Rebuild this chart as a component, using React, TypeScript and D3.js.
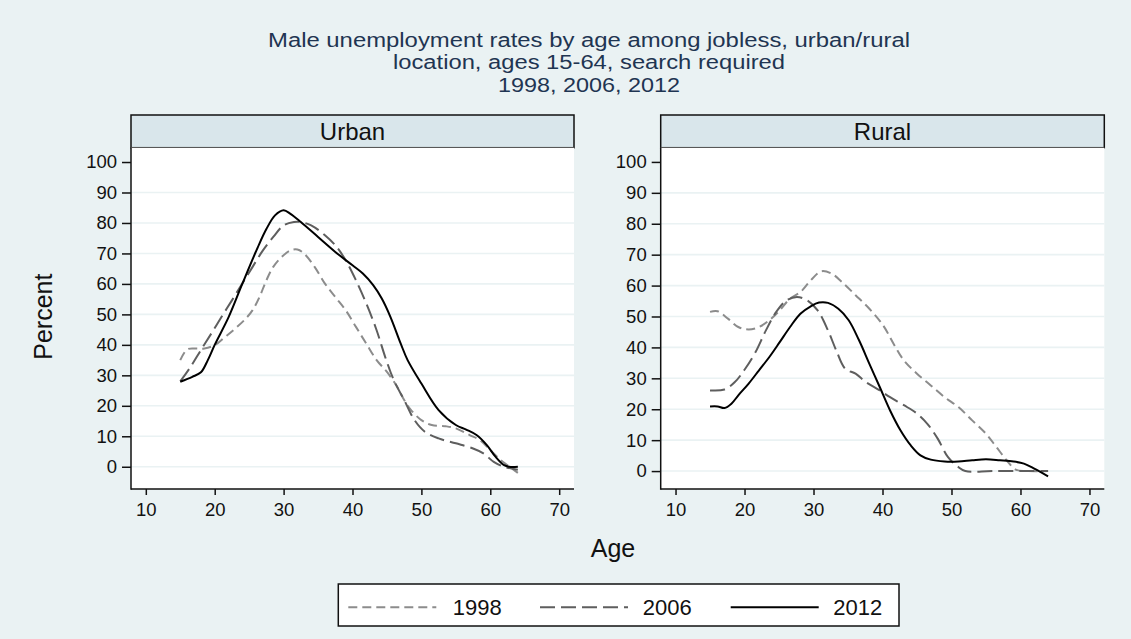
import React, { useEffect } from "react";
import * as d3 from "d3";

type Pt = [number, number];

const titleLines = [
  "Male unemployment rates by age among jobless, urban/rural",
  "location, ages 15-64, search required",
  "1998, 2006, 2012",
];
const years = ["1998", "2006", "2012"];
const xTicks = [10, 20, 30, 40, 50, 60, 70];
const yTicks = [0, 10, 20, 30, 40, 50, 60, 70, 80, 90, 100];

// Urban as [age, percent]
const urban1998: Pt[] = [
  [15, 35], [16, 38.5], [17.25, 38.8], [18.5, 38.8], [20, 39.9], [21.5, 42.6], [23, 45.4],
  [24.5, 48.6], [25.5, 51.4], [26.5, 55.7], [27.5, 61.2], [28.5, 65.6], [29.75, 68.9],
  [31, 71], [32, 71.3], [33, 69.9], [34.5, 65.6], [36, 60.1], [37.5, 55.7], [39, 51.4],
  [40.5, 45.9], [42, 40.4], [43.5, 35], [45, 31.1], [46.5, 26.2], [47.5, 21.9], [48.5, 18.6],
  [50, 15.3], [51.5, 13.7], [53.5, 13.3], [55, 12.6], [57, 10.4], [58.5, 8.7], [60, 5.5],
  [61.5, 2.2], [62.5, 0.5], [64, -2],
];
const urban2006: Pt[] = [
  [15, 28], [16.5, 32.8], [18, 38.3], [19.5, 43.7], [21, 49.2], [22.5, 54.6], [24, 60.1],
  [25.5, 65.6], [27, 71], [28.5, 75.4], [30, 79.2], [31.5, 80.3], [32.5, 80.3], [34, 79.2],
  [36, 76], [37.5, 72.7], [39, 67.8], [40.5, 61.2], [42, 53.6], [43.5, 44.8], [44.75, 36],
  [46, 28.4], [47.5, 21.9], [49, 15.3], [50.5, 11.5], [52.5, 9.3], [55, 7.7], [57.5, 6],
  [59, 4.4], [60.5, 1.6], [62, 0], [64, -1],
];
const urban2012: Pt[] = [
  [15, 27.9], [16.75, 29.5], [18, 31], [19, 35], [20, 40], [22, 49], [24, 60], [26.25, 72],
  [27.5, 78], [28.75, 82.5], [30, 84.2], [31, 83], [32.5, 80.3], [35, 75.4], [37.5, 70.5],
  [40, 66.1], [41.5, 63.4], [43, 59.6], [44.25, 55.2], [45.5, 49.2], [47, 40.4], [48, 35],
  [50, 27.3], [52.5, 18.6], [55, 13.7], [56.5, 12.2], [58, 10.4], [59.5, 7.1], [60.75, 3.3],
  [62, 0.5], [62.75, 0], [64, 0],
];

// Rural
const rural1998: Pt[] = [
  [15, 51.5], [16.1, 51.7], [17.6, 49.3], [19.1, 46.6], [20.6, 45.8], [22.1, 46.6],
  [23.6, 48.8], [25.1, 52], [26.6, 55.8], [28.1, 57.9], [29.6, 61.7], [31.1, 64.6],
  [32.6, 63.9], [34.1, 61.2], [36.1, 56.9], [38.1, 52.5], [40.1, 47.1], [41.6, 41.2],
  [43.1, 35.8], [45, 31.5], [47, 27.7], [49, 23.9], [51, 20.7], [53, 16.4], [55, 12.1],
  [56.5, 7.8], [58, 3.5], [59.3, 0.5], [61, 0], [64, 0],
];
const rural2006: Pt[] = [
  [15, 26.1], [17.1, 26.4], [18.6, 28.8], [20.1, 33.1], [21.6, 38.5], [23.1, 45.5],
  [24.6, 51.5], [26.1, 55.2], [27.6, 56.3], [29.1, 55.2], [30.6, 52], [32.1, 45.5],
  [33.3, 39], [34.6, 33.1], [36.1, 31.5], [37.6, 28.8], [39.6, 26.1], [41.1, 23.9],
  [43.1, 21.3], [45, 18.6], [46.5, 15.3], [48, 10.5], [49.5, 4.5], [51, 1.3], [52, 0],
  [56, 0], [64, 0],
];
const rural2012: Pt[] = [
  [15, 20.9], [16.1, 20.9], [17.1, 20.4], [18.1, 21.8], [19.1, 24.5], [20.6, 28.3],
  [22.1, 32.6], [23.6, 36.9], [25.1, 41.7], [26.6, 46.6], [28.1, 50.9], [29.6, 53.3],
  [30.8, 54.5], [32.1, 54.4], [33.6, 52.5], [35.1, 48.8], [36.6, 42.3], [38.1, 34.7],
  [39.6, 27.2], [41.1, 19.6], [42.6, 13.2], [44.1, 8.3], [45.5, 5.1], [47, 3.7], [49, 3.1],
  [51, 3.1], [53, 3.5], [55, 3.8], [57, 3.5], [59, 3.1], [60.5, 2.4], [62, 0.8], [64, -1.7],
];

const lineStyles = [
  { color: "#8c8c8c", dash: "9,5", width: 2 },
  { color: "#5e5e5e", dash: "15,6", width: 2 },
  { color: "#000000", dash: null, width: 2 },
];

const BG = "#eaf2f3";
const FONT = "'Liberation Sans', Arial, sans-serif";

export default function App() {
  const svgRef = React.useRef<SVGSVGElement>(null);

  useEffect(() => {
    const width = 1131;
    const height = 639;
    const svg = d3.select(svgRef.current).attr("width", width).attr("height", height);
    svg.selectAll("*").remove();

    svg.append("rect").attr("width", width).attr("height", height).attr("fill", BG);

    // title
    const titleWidths = [642, 392, 182];
    titleLines.forEach((t, i) => {
      svg
        .append("text")
        .attr("x", 589)
        .attr("y", 46.7 + i * 22.5)
        .attr("text-anchor", "middle")
        .attr("fill", "#1f3552")
        .attr("font-family", FONT)
        .attr("font-size", 20)
        .attr("textLength", titleWidths[i])
        .attr("lengthAdjust", "spacingAndGlyphs")
        .text(t);
    });

    const top = 147.7;
    const bottom = 489;
    const panels = [
      { name: "Urban", x0: 131, x1: 574, yDomain: [-7.3, 104.7], series: [urban1998, urban2006, urban2012] },
      { name: "Rural", x0: 660.7, x1: 1104.3, yDomain: [-5.8, 104.6], series: [rural1998, rural2006, rural2012] },
    ];

    panels.forEach((p) => {
      const x = d3.scaleLinear().domain([7.85, 72.15]).range([p.x0, p.x1]);
      const y = d3.scaleLinear().domain(p.yDomain).range([bottom, top]);
      const g = svg.append("g");

      // header strip
      g.append("rect")
        .attr("x", p.x0)
        .attr("y", 115)
        .attr("width", p.x1 - p.x0)
        .attr("height", top - 115)
        .attr("fill", "#d9e6eb")
        .attr("stroke", "#111")
        .attr("stroke-width", 1.5);
      g.append("text")
        .attr("x", (p.x0 + p.x1) / 2)
        .attr("y", 139.5)
        .attr("text-anchor", "middle")
        .attr("font-family", FONT)
        .attr("font-size", 24)
        .attr("fill", "#111")
        .text(p.name);

      // plot area
      g.append("rect")
        .attr("x", p.x0)
        .attr("y", top)
        .attr("width", p.x1 - p.x0)
        .attr("height", bottom - top)
        .attr("fill", "#fff");

      g.selectAll(".grid")
        .data(yTicks.filter((d) => d < 100))
        .enter()
        .append("line")
        .attr("x1", p.x0)
        .attr("x2", p.x1)
        .attr("y1", (d) => y(d))
        .attr("y2", (d) => y(d))
        .attr("stroke", BG)
        .attr("stroke-width", 1.6);

      // axes
      const yAxis = g
        .append("g")
        .attr("transform", `translate(${p.x0},0)`)
        .call(d3.axisLeft(y).tickValues(yTicks).tickSize(9).tickPadding(5));
      const xAxis = g
        .append("g")
        .attr("transform", `translate(0,${bottom})`)
        .call(d3.axisBottom(x).tickValues(xTicks).tickSize(6).tickPadding(8));
      [yAxis, xAxis].forEach((a) => {
        a.select(".domain").remove();
        a.selectAll("line").attr("stroke", "#111").attr("stroke-width", 1.5);
        a.selectAll("text")
          .attr("font-family", FONT)
          .attr("font-size", 18.5)
          .attr("fill", "#111");
      });
      g.append("line")
        .attr("x1", p.x0).attr("x2", p.x0)
        .attr("y1", top).attr("y2", bottom + 0.75)
        .attr("stroke", "#111").attr("stroke-width", 1.5);
      g.append("line")
        .attr("x1", p.x0).attr("x2", p.x1)
        .attr("y1", bottom).attr("y2", bottom)
        .attr("stroke", "#111").attr("stroke-width", 1.5);

      const line = d3
        .line<Pt>()
        .x((d) => x(d[0]))
        .y((d) => y(d[1]))
        .curve(d3.curveCatmullRom.alpha(0.5));

      p.series.forEach((s, i) => {
        const st = lineStyles[i];
        g.append("path")
          .datum(s)
          .attr("d", line)
          .attr("fill", "none")
          .attr("stroke", st.color)
          .attr("stroke-width", st.width)
          .attr("stroke-dasharray", st.dash)
          .attr("stroke-linejoin", "round");
      });
    });

    // axis titles
    svg
      .append("text")
      .attr("transform", "translate(51.5,316.7) rotate(-90)")
      .attr("text-anchor", "middle")
      .attr("font-family", FONT)
      .attr("font-size", 25)
      .attr("fill", "#111")
      .text("Percent");
    svg
      .append("text")
      .attr("x", 613)
      .attr("y", 556.5)
      .attr("text-anchor", "middle")
      .attr("font-family", FONT)
      .attr("font-size", 25)
      .attr("fill", "#111")
      .text("Age");

    // legend
    const lg = svg.append("g");
    lg.append("rect")
      .attr("x", 338.3)
      .attr("y", 584)
      .attr("width", 560.7)
      .attr("height", 42)
      .attr("fill", "#fff")
      .attr("stroke", "#111")
      .attr("stroke-width", 1.5);
    const sampleX = [348.3, 540, 730.7];
    const textX = [452.7, 642.7, 833.3];
    years.forEach((yr, i) => {
      const st = lineStyles[i];
      lg.append("line")
        .attr("x1", sampleX[i])
        .attr("x2", sampleX[i] + 88)
        .attr("y1", 607.3)
        .attr("y2", 607.3)
        .attr("stroke", st.color)
        .attr("stroke-width", st.width)
        .attr("stroke-dasharray", st.dash);
      lg.append("text")
        .attr("x", textX[i])
        .attr("y", 615.3)
        .attr("font-family", FONT)
        .attr("font-size", 22)
        .attr("fill", "#111")
        .text(yr);
    });
  }, []);

  return (
    <div style={{ position: "fixed", left: 0, top: 0 }}>
      <svg ref={svgRef} style={{ display: "block" }} />
    </div>
  );
}
